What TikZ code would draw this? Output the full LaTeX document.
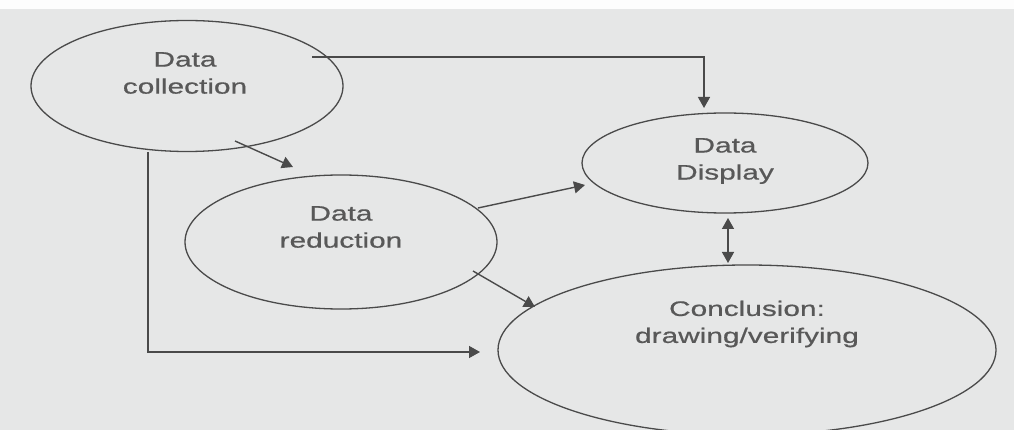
\documentclass[tikz,border=0pt]{standalone}
\usepackage{fontspec}
\newfontfamily\slidefont[FakeStretch=1.42,FakeBold=0.6]{Liberation Sans}
\usetikzlibrary{shapes.geometric,arrows.meta}
\definecolor{slide}{HTML}{E6E7E7}
\definecolor{ink}{HTML}{4A4A4A}
\definecolor{txt}{HTML}{585858}
\begin{document}
\begin{tikzpicture}[x=1pt,y=-1pt,>={Triangle[length=11pt,width=12pt]}]
  \tikzstyle{phase}=[draw=ink,line width=1.3pt,ellipse,inner sep=0pt]
  \tikzstyle{lbl}=[align=center,text=txt,font=\slidefont\fontsize{21}{27}\selectfont]
  \tikzstyle{link}=[draw=ink,line width=1.4pt]
  \clip (0,0) rectangle (1014,430);
  \fill [slide] (0,0) rectangle (1014,430);
  \fill [white!92!slide] (0,0) rectangle (1014,9);
  % the four phases
  \node (coll) [phase,minimum width=312pt,minimum height=131pt,
    label={[lbl,xshift=-2pt,yshift=13pt]center:Data\\collection}] at (187,86) {};
  \node (red) [phase,minimum width=312pt,minimum height=134pt,
    label={[lbl,yshift=15pt]center:Data\\reduction}] at (341,242) {};
  \node (disp) [phase,minimum width=286pt,minimum height=100pt,
    label={[lbl,yshift=2pt]center:Data\\Display}] at (725,163) {};
  \node (conc) [phase,minimum width=498pt,minimum height=170pt,
    label={[lbl,yshift=26pt]center:Conclusion:\\drawing/verifying}] at (747,350) {};
  % links
  \draw [link,->] ([shift={(125,-29)}]coll.center) -| ([shift={(-21,-55)}]disp.center);
  \draw [link,->] ([shift={(48,55)}]coll.center) -- ([shift={(-48,-75)}]red.center);
  \draw [link,->] ([shift={(137,-34)}]red.center) -- ([shift={(-140,22)}]disp.center);
  \draw [link,->] ([shift={(132,29)}]red.center) -- ([shift={(-212,-43)}]conc.center);
  \draw [link,<->] ([shift={(3,55)}]disp.center) -- ([shift={(-19,-87)}]conc.center);
  \draw [link,->] ([shift={(-39,66)}]coll.center) |- ([shift={(-267,2)}]conc.center);
\end{tikzpicture}
\end{document}
